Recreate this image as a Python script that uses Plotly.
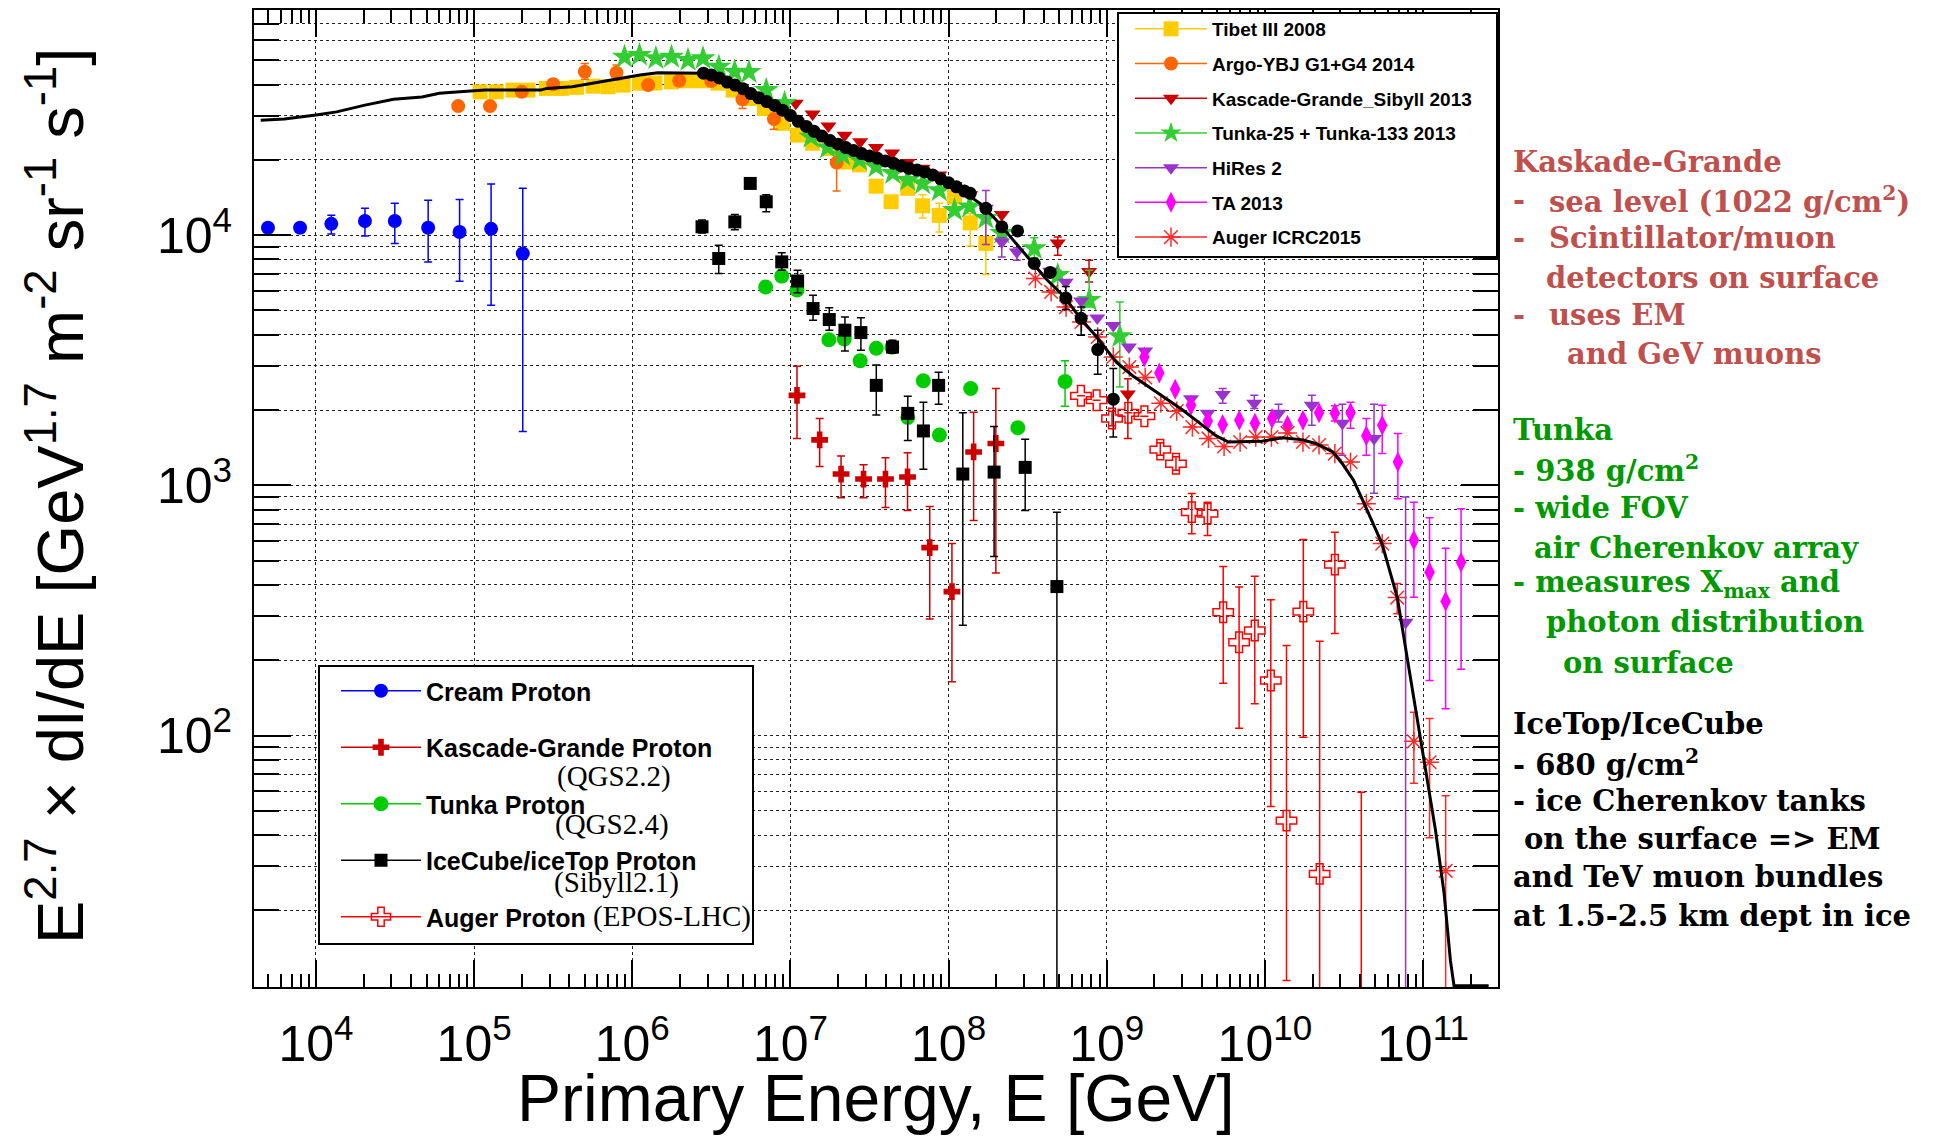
import plotly.graph_objects as go

# ------------------------------------------------------------------ data
# model / fit curve (black line)
CURVE_E = [4470, 6310, 1.0e4, 1.35e4, 2.04e4, 3.09e4, 4.68e4, 6.03e4, 8.13e4, 1.17e5,
           2.63e5, 2.88e5, 4.17e5, 5.13e5, 7.24e5, 8.51e5, 1.12e6, 1.45e6, 2.57e6, 2.82e6,
           3.72e6, 4.79e6, 6.46e6, 8.51e6, 1.10e7, 1.38e7, 1.78e7, 2.24e7, 2.88e7, 3.63e7,
           4.68e7, 5.89e7, 7.59e7, 9.55e7, 1.23e8, 1.58e8, 2.00e8, 2.57e8, 3.24e8, 4.17e8,
           5.37e8, 6.76e8, 8.71e8, 1.15e9, 1.45e9, 1.86e9, 2.34e9, 3.02e9, 3.80e9, 4.90e9,
           5.89e9, 7.94e9, 9.55e9, 1.29e10, 1.74e10, 2.09e10, 2.69e10, 3.09e10, 3.63e10, 4.07e10,
           4.52e10, 5.01e10, 5.50e10, 6.87e10, 7.76e10, 8.97e10, 1.04e11, 1.20e11, 1.36e11,
           1.49e11, 1.57e11, 2.6e11]
CURVE_F = [28800, 29100, 30200, 31100, 33100, 34900, 35700, 36900, 37400, 38000,
           38000, 38600, 39200, 40100, 41700, 42400, 43700, 44600, 44600, 44400,
           42000, 39200, 35200, 32400, 28800, 26300, 24000, 22400, 21200, 20300,
           19400, 18500, 17900, 16600, 14900, 13400, 11500, 9550, 8070, 6650,
           5690, 4680, 3890, 3110, 2750, 2470, 2220, 2000, 1790, 1580,
           1490, 1490, 1500, 1550, 1520, 1470, 1360, 1220, 1050, 898,
           771, 661, 585, 357, 225, 130, 74.6, 41.7, 23.3,
           12.6, 10.0, 10.0]

CREAM_E = [4970, 7930, 12500, 20400, 31500, 51200, 80900, 128000, 203000]
CREAM_F = [10700, 10700, 11100, 11400, 11400, 10700, 10300, 10600, 8450]
CREAM_HI = [11100, 11100, 12000, 12800, 13400, 13800, 13900, 16000, 15400]
CREAM_LO = [10300, 10300, 10100, 9930, 9270, 7820, 6550, 5250, 1640]

TIBET_E = [1.09e5, 1.38e5, 1.76e5, 2.19e5, 2.86e5, 3.56e5, 4.44e5, 5.65e5, 7.03e5, 8.75e5,
           1.11e6, 1.39e6, 1.77e6, 2.20e6, 2.74e6, 3.48e6, 4.34e6, 5.52e6, 6.85e6, 8.95e6,
           1.11e7, 1.38e7, 1.77e7, 2.20e7, 2.73e7, 3.48e7, 4.33e7, 5.51e7, 6.85e7, 8.73e7,
           1.09e8, 1.37e8, 1.72e8]
TIBET_F = [37400, 37400, 38000, 38000, 38600, 38600, 39000, 39400, 39200, 39800,
           40500, 40600, 41000, 41400, 41400, 40500, 38000, 35200, 32100, 28000,
           25100, 23300, 22200, 19600, 19100, 15700, 13600, 15400, 13100, 12000,
           14200, 11200, 9270]
TIBET_HI = [None] * 27 + [16300, 14500, 13400, None, 12200, 12200]
TIBET_LO = [None] * 27 + [14600, 11700, 10300, None, 9060, 6970]

ARGO_E = [7.93e4, 1.26e5, 2.00e5, 3.16e5, 5.01e5, 7.94e5, 1.26e6, 1.98e6, 3.16e6, 4.97e6, 7.87e6, 1.96e7]
ARGO_F = [32800, 32800, 37400, 40100, 45000, 44600, 39800, 41400, 41300, 34900, 29100, 19500]
ARGO_HI = [None, None, None, 42000, 48600, 47900, None, None, None, 36500, 30700, 22500]
ARGO_LO = [None, None, None, 38300, 42000, 41700, None, None, None, 32100, 26500, 15000]

KGS_E = [1.08e7, 1.38e7, 1.74e7, 2.20e7, 2.76e7, 3.48e7, 4.39e7, 5.51e7, 6.85e7, 8.73e7,
         1.09e8, 1.37e8, 2.17e8, 4.90e8, 7.73e8, 1.36e9]
KGS_F = [33700, 30500, 27300, 25100, 23600, 22400, 21300, 19500, 18500, 17400,
         15800, 14500, 12100, 9310, 7160, 2320]
KGS_HI = [None] * 13 + [9840, 7940, 2670]
KGS_LO = [None] * 13 + [8320, 6500, 1540]

TUNKA_E = [8.93e5, 1.11e6, 1.41e6, 1.77e6, 2.25e6, 2.80e6, 3.53e6, 4.44e6, 5.47e6, 7.03e6,
           9.18e6, 1.35e7, 1.72e7, 2.14e7, 2.73e7, 3.48e7, 4.44e7, 5.51e7, 6.85e7, 8.73e7,
           1.09e8, 1.36e8, 1.72e8, 2.17e8, 3.48e8, 4.90e8, 7.74e8, 1.21e9]
TUNKA_F = [51600, 52500, 50900, 51600, 50100, 50900, 47100, 45000, 44800, 38000,
           33700, 24700, 22400, 20900, 20000, 18800, 17700, 16600, 16100, 15100,
           12600, 13000, 11700, 10200, 8850, 6920, 5500, 3940]
TUNKA_HI = [None] * 24 + [9770, 7240, 7240, 5410]
TUNKA_LO = [None] * 24 + [8130, 5860, 5160, 2470]

HIRES_E = [1.72e8, 2.17e8, 2.70e8, 4.39e8, 5.50e8, 6.89e8, 8.71e8, 1.10e9, 1.38e9, 1.75e9,
           3.41e9, 4.35e9, 5.41e9, 8.57e9, 1.22e10, 1.98e10, 3.09e10, 4.90e10, 7.76e10]
HIRES_F = [12800, 9400, 8570, 7180, 6490, 5460, 4670, 4350, 3570, 3440,
           2220, 1940, 2310, 2130, 1940, 2090, 1770, 1540, 284]
HIRES_HI = [15100, 9770, 8900] + [None] * 9 + [2440, 2290, 2110, 2290, 2110, 2110, 898]
HIRES_LO = [9180, 8180, 7940] + [None] * 9 + [2130, 2030, 1790, 1740, 1320, 931, 1.0]

TA_E = [1.73e9, 2.15e9, 2.71e9, 3.41e9, 4.35e9, 5.41e9, 6.89e9, 8.65e9, 1.11e10, 1.39e10,
        1.74e10, 2.20e10, 2.77e10, 3.48e10, 4.38e10, 5.52e10, 6.93e10, 8.75e10, 1.10e11, 1.39e11,
        1.74e11]
TA_F = [3260, 2810, 2420, 2090, 1810, 1750, 1820, 1770, 1850, 1740,
        1820, 1950, 1940, 1950, 1580, 1740, 1240, 603, 450, 344, 493]
TA_HI = [None] * 12 + [2080, 2150, 1850, 2090, 1610, 857, 743, 561, 807]
TA_LO = [None] * 12 + [1810, 1690, 1320, 1340, 885, 357, 166, 128, 184]

AUGER_E = [3.54e8, 4.45e8, 5.53e8, 6.92e8, 8.77e8, 1.10e9, 1.39e9, 1.75e9, 2.20e9, 2.77e9,
           3.48e9, 4.40e9, 5.52e9, 6.97e9, 8.75e9, 1.10e10, 1.39e10, 1.74e10, 2.20e10, 2.77e10,
           3.48e10, 4.38e10, 5.52e10, 6.87e10, 8.75e10, 1.10e11, 1.39e11]
AUGER_F = [6710, 5930, 5160, 4500, 3920, 3260, 2970, 2700, 2130, 1980,
           1710, 1540, 1430, 1490, 1560, 1560, 1620, 1490, 1450, 1340,
           1240, 845, 585, 356, 94.8, 78.2, 28.8]
AUGER_HI = [None] * 23 + [405, 124, 117, 57.5]
AUGER_LO = [None] * 23 + [307, 64.4, 39.0, 1.0]

KGP_E = [1.10e7, 1.53e7, 2.09e7, 2.90e7, 3.99e7, 5.50e7, 7.60e7, 1.05e8, 1.44e8, 1.99e8]
KGP_F = [2290, 1520, 1110, 1060, 1060, 1080, 564, 376, 1360, 1470]
KGP_HI = [2990, 1850, 1310, 1210, 1290, 1350, 824, 585, 1960, 2440]
KGP_LO = [1540, 1190, 893, 893, 815, 794, 292, 164, 724, 446]

TUNKAP_E = [6.97e6, 8.81e6, 1.10e7, 1.75e7, 2.19e7, 2.76e7, 3.49e7, 4.38e7, 5.52e7, 6.92e7,
            8.75e7, 1.38e8, 2.74e8, 5.45e8]
TUNKAP_F = [6210, 6860, 6040, 3820, 3850, 3150, 3530, 3570, 1870, 2620, 1590, 2440, 1700, 2600]
TUNKAP_HI = [None] * 13 + [3150]
TUNKAP_LO = [None] * 13 + [2070]

ICP_E = [2.76e6, 3.52e6, 4.45e6, 5.57e6, 7.03e6, 8.81e6, 1.11e7, 1.39e7, 1.76e7, 2.21e7,
         2.79e7, 3.49e7, 4.42e7, 5.52e7, 6.93e7, 8.65e7, 1.23e8, 1.94e8, 3.05e8, 4.84e8]
ICP_F = [10800, 8070, 11300, 16100, 13600, 7820, 6560, 5090, 4600, 4170,
         4080, 2510, 3570, 1940, 1650, 2510, 1110, 1130, 1180, 394]
ICP_HI = [11500, 9120, 12100, None, 14500, 8510, 7240, 5750, 5130, 4710,
          4680, 3030, 3800, 2270, 2150, 2830, 1950, 1720, 1530, 780]
ICP_LO = [10200, 7030, 10500, None, 12400, 7240, 5890, 4570, 4170, 3440,
          3470, 1910, 3370, 1510, 1160, 2110, 276, 520, 794, 1.0]

ALL_E = [2.82e6, 3.16e6, 3.55e6, 3.98e6, 4.47e6, 5.01e6, 5.62e6, 6.31e6, 7.08e6, 7.94e6,
         8.91e6, 1.0e7, 1.12e7, 1.26e7, 1.41e7, 1.58e7, 1.78e7, 2.0e7, 2.24e7, 2.51e7,
         2.82e7, 3.16e7, 3.55e7, 3.98e7, 4.47e7, 5.01e7, 5.62e7, 6.31e7, 7.08e7, 7.94e7,
         8.91e7, 1.0e8, 1.12e8, 1.26e8, 1.37e8, 1.72e8, 2.17e8, 2.73e8, 3.48e8, 4.39e8,
         5.51e8, 6.89e8, 8.77e8, 1.10e9]
ALL_F = [44400, 43700, 42500, 40900, 39800, 38500, 36800, 35400, 34200, 33000,
         31600, 30100, 28500, 27200, 26000, 24900, 23900, 23100, 22400, 21800,
         21200, 20700, 20300, 19800, 19400, 18900, 18500, 18200, 17900, 17400,
         16800, 16200, 15600, 15000, 14700, 12800, 10800, 10400, 7710, 7100,
         5610, 4650, 3490, 2210]
ALL_HI = [None] * 40 + [6230, 5160, 4170, 2930]
ALL_LO = [None] * 40 + [5050, 3980, 2780, 1560]

AUGP_E = [6.87e8, 8.63e8, 1.08e9, 1.37e9, 1.73e9, 2.18e9, 2.74e9, 3.45e9, 4.34e9, 5.45e9,
          6.87e9, 8.63e9, 1.09e10, 1.37e10, 1.75e10, 2.22e10, 2.77e10, 4.07e10]
AUGP_F = [2280, 2190, 1850, 1950, 1890, 1390, 1220, 782, 771, 311,
          236, 263, 166, 45.7, 313, 28.0, 482, 5.0]
AUGP_HI = [None, None, 1980, None, None, 1480, 1300, 927, 857, 474,
           392, 433, 349, 229, 607, 238, 650, 59.3]
AUGP_LO = [None, None, 1730, None, None, 1320, 1150, 641, 631, 162,
           107, 134, 52.0, 10.5, 98.4, 1.0, 256, 5.0]

X_TICKS = [1e4, 1e5, 1e6, 1e7, 1e8, 1e9, 1e10, 1e11]
X_TICKTEXT = ["10<sup>4</sup>", "10<sup>5</sup>", "10<sup>6</sup>", "10<sup>7</sup>",
              "10<sup>8</sup>", "10<sup>9</sup>", "10<sup>10</sup>", "10<sup>11</sup>"]
Y_TICKS = [1e2, 1e3, 1e4]
Y_TICKTEXT = ["10<sup>2</sup>", "10<sup>3</sup>", "10<sup>4</sup>"]

TOP_LEGEND = ["Tibet III 2008", "Argo-YBJ G1+G4 2014", "Kascade-Grande_Sibyll 2013",
              "Tunka-25 + Tunka-133 2013", "HiRes 2", "TA 2013", "Auger ICRC2015"]
BOTTOM_LEGEND = ["Cream Proton", "Kascade-Grande Proton", "Tunka Proton",
                 "IceCube/iceTop Proton", "Auger Proton"]
MODEL_LABELS = ["(QGS2.2)", "(QGS2.4)", "(Sibyll2.1)", "(EPOS-LHC)"]

KG_NOTES = ["Kaskade-Grande", "sea level (1022 g/cm<sup>2</sup>)", "Scintillator/muon",
            "detectors on surface", "uses EM", "and GeV muons"]
TUNKA_NOTES = ["Tunka", "- 938 g/cm<sup>2</sup>", "- wide FOV", "air Cherenkov array",
               "- measures X<sub>max</sub> and", "photon distribution", "on surface"]
ICE_NOTES = ["IceTop/IceCube", "- 680 g/cm<sup>2</sup>", "- ice Cherenkov tanks",
             "on the surface => EM", "and TeV muon bundles", "at 1.5-2.5 km dept in ice"]

# ------------------------------------------------------------------ layout helpers
W, H = 1946, 1145
L, R, T, B = 254, 1498, 10, 987


def px(x):
    return (x - L) / (R - L)


def py(y):
    return (B - y) / (B - T)


def errs(vals, hi, lo):
    plus = [0 if h is None else h - v for v, h in zip(vals, hi)]
    minus = [0 if l is None else v - l for v, l in zip(vals, lo)]
    return plus, minus


fig = go.Figure()


def add_points(E, F, HI, LO, color, symbol, size, lw=0):
    plus, minus = errs(F, HI, LO)
    fig.add_trace(go.Scatter(
        x=E, y=F, mode="markers", showlegend=False, hoverinfo="skip",
        marker=dict(symbol=symbol, size=size, color=color, line=dict(width=lw, color=color)),
        error_y=dict(type="data", symmetric=False, array=plus, arrayminus=minus,
                     color=color, thickness=1.5, width=4)))


def add_legend_entry(name, color, symbol, size, legend, lw=0):
    fig.add_trace(go.Scatter(
        x=[None], y=[None], mode="lines+markers", name=name, legend=legend,
        legendgroup=name, line=dict(color=color, width=1.5),
        marker=dict(symbol=symbol, size=size, color=color, line=dict(width=lw, color=color))))


C_TIBET, C_ARGO, C_KGS, C_TUNKA = "#FFCC00", "#FF6600", "#CC0000", "#33CC33"
C_HIRES, C_TA, C_AUGER = "#9933CC", "#FF00FF", "#FF2a2a"
C_CREAM, C_KGP, C_TUNKAP, C_ICP, C_AUGP = "#0000FF", "#CC0000", "#00CC00", "#000000", "#FF0000"

S_TIBET, S_ARGO, S_KGS, S_TUNKA, S_HIRES, S_TA, S_AUGER = 15, 14, 14, 19, 14, 15, 16
S_CREAM, S_KGP, S_TUNKAP, S_ICP, S_AUGP, S_ALL = 14, 14, 15, 13, 17, 13

add_points(TIBET_E, TIBET_F, TIBET_HI, TIBET_LO, C_TIBET, "square", S_TIBET)
add_points(ARGO_E, ARGO_F, ARGO_HI, ARGO_LO, C_ARGO, "circle", S_ARGO)
add_points(KGS_E, KGS_F, KGS_HI, KGS_LO, C_KGS, "triangle-down", S_KGS)
add_points(TUNKA_E, TUNKA_F, TUNKA_HI, TUNKA_LO, C_TUNKA, "star", S_TUNKA)
add_points(HIRES_E, HIRES_F, HIRES_HI, HIRES_LO, C_HIRES, "triangle-down", S_HIRES)
add_points(TA_E, TA_F, TA_HI, TA_LO, C_TA, "diamond-tall", S_TA)
add_points(AUGER_E, AUGER_F, AUGER_HI, AUGER_LO, C_AUGER, "asterisk-open", S_AUGER, lw=1.5)

fig.add_trace(go.Scatter(x=CURVE_E, y=CURVE_F, mode="lines", showlegend=False, hoverinfo="skip",
                         line=dict(color="black", width=3)))
add_points(ALL_E, ALL_F, ALL_HI, ALL_LO, "#000000", "circle", S_ALL)

add_points(CREAM_E, CREAM_F, CREAM_HI, CREAM_LO, C_CREAM, "circle", S_CREAM)
add_points(KGP_E, KGP_F, KGP_HI, KGP_LO, C_KGP, "cross", S_KGP)
add_points(TUNKAP_E, TUNKAP_F, TUNKAP_HI, TUNKAP_LO, C_TUNKAP, "circle", S_TUNKAP)
add_points(ICP_E, ICP_F, ICP_HI, ICP_LO, C_ICP, "square", S_ICP)
add_points(AUGP_E, AUGP_F, AUGP_HI, AUGP_LO, C_AUGP, "cross-open", S_AUGP, lw=1.5)

# legend entries
top_styles = [(C_TIBET, "square", S_TIBET, 0), (C_ARGO, "circle", S_ARGO, 0),
              (C_KGS, "triangle-down", S_KGS, 0), (C_TUNKA, "star", S_TUNKA, 0),
              (C_HIRES, "triangle-down", S_HIRES, 0), (C_TA, "diamond-tall", S_TA, 0),
              (C_AUGER, "asterisk-open", S_AUGER, 1.5)]
for name, (c, s, sz, lw) in zip(TOP_LEGEND, top_styles):
    add_legend_entry(name, c, s, sz, "legend", lw)
bot_styles = [(C_CREAM, "circle", S_CREAM, 0), (C_KGP, "cross", S_KGP, 0),
              (C_TUNKAP, "circle", S_TUNKAP, 0), (C_ICP, "square", S_ICP, 0),
              (C_AUGP, "cross-open", S_AUGP, 1.5)]
for name, (c, s, sz, lw) in zip(BOTTOM_LEGEND, bot_styles):
    add_legend_entry(name, c, s, sz, "legend2", lw)

# ------------------------------------------------------------------ axes
x_minor = [k * 10 ** d for d in range(3, 12) for k in range(2, 10)]
y_minor = [k * 10 ** d for d in range(0, 5) for k in range(2, 10)]

axis_common = dict(type="log", showline=True, linecolor="black", linewidth=2, mirror="allticks",
                   ticks="inside", tickcolor="black", tickwidth=1.5, zeroline=False,
                   gridcolor="#222222", gridwidth=1, griddash="dot", showgrid=True,
                   tickfont=dict(family="Liberation Sans, Arial, sans-serif", size=50, color="black"))
fig.update_xaxes(**axis_common, range=[3.608, 11.474], tickmode="array", tickvals=X_TICKS,
                 ticktext=X_TICKTEXT, ticklen=27, ticklabelstandoff=12,
                 minor=dict(tickmode="array", tickvals=x_minor, ticks="inside", ticklen=13,
                            tickwidth=1.5, tickcolor="black", showgrid=False))
fig.update_yaxes(**axis_common, range=[0.995, 4.9], tickmode="array", tickvals=Y_TICKS,
                 ticktext=Y_TICKTEXT, ticklen=37, ticklabelstandoff=10,
                 minor=dict(tickmode="array", tickvals=y_minor, ticks="inside", ticklen=25,
                            tickwidth=1.5, tickcolor="black", showgrid=True,
                            gridcolor="#222222", gridwidth=1, griddash="dot"))

# ------------------------------------------------------------------ annotations
ann = []
ann.append(dict(text="Primary Energy, E [GeV]", x=px(876), y=py(1098), xref="paper", yref="paper",
                showarrow=False, xanchor="center", yanchor="middle",
                font=dict(family="Liberation Sans, Arial, sans-serif", size=66, color="black")))
ann.append(dict(text="E<sup>2.7</sup> \u00d7 dI/dE [GeV<sup>1.7</sup> m<sup>-2</sup> sr<sup>-1</sup> s<sup>-1</sup>]",
                x=px(56), y=py(496), xref="paper", yref="paper", textangle=-90,
                showarrow=False, xanchor="center", yanchor="middle",
                font=dict(family="Liberation Sans, Arial, sans-serif", size=65, color="black")))

model_pos = [(555, 776), (553, 824), (552, 882), (591, 916)]
for txt, (x0, y0) in zip(MODEL_LABELS, model_pos):
    ann.append(dict(text=txt, x=px(x0), y=py(y0), xref="paper", yref="paper", showarrow=False,
                    xanchor="left", yanchor="middle",
                    font=dict(family="Liberation Serif, Times New Roman, serif", size=29, color="black")))

note_font = "DejaVu Serif, serif"


def note(txt, x0, y0, color):
    ann.append(dict(text=txt, x=px(x0), y=py(y0), xref="paper", yref="paper", showarrow=False,
                    xanchor="left", yanchor="middle",
                    font=dict(family=note_font, size=29, color=color, weight="bold")))


KG_C, TU_C, IC_C = "#C0504D", "#009900", "#000000"
kg_pos = [(1511, 162), (1547, 200), (1547, 238), (1544, 278), (1547, 315), (1565, 354)]
for txt, (x0, y0) in zip(KG_NOTES, kg_pos):
    note(txt, x0, y0, KG_C)
for y0 in (200, 238, 315):
    note("-", 1511, y0, KG_C)
tu_pos = [(1511, 430), (1511, 469), (1511, 508), (1532, 548), (1511, 584), (1544, 622), (1561, 663)]
for txt, (x0, y0) in zip(TUNKA_NOTES, tu_pos):
    note(txt, x0, y0, TU_C)
ic_pos = [(1511, 724), (1511, 763), (1511, 801), (1522, 839), (1511, 877), (1511, 916)]
for txt, (x0, y0) in zip(ICE_NOTES, ic_pos):
    note(txt, x0, y0, IC_C)

shapes = [
    dict(type="rect", xref="paper", yref="paper", x0=px(1118), x1=px(1497), y0=py(257), y1=py(13),
         fillcolor="white", line=dict(color="black", width=2), layer="above"),
    dict(type="rect", xref="paper", yref="paper", x0=px(319), x1=px(753), y0=py(944), y1=py(666),
         fillcolor="white", line=dict(color="black", width=2), layer="above"),
]

fig.update_layout(
    width=W, height=H,
    margin=dict(l=L, r=W - R, t=T, b=H - B, autoexpand=False),
    paper_bgcolor="white", plot_bgcolor="white",
    font=dict(family="Liberation Sans, Arial, sans-serif", color="black"),
    annotations=ann, shapes=shapes,
    legend=dict(x=px(1130), y=py(10), xanchor="left", yanchor="top", bgcolor="rgba(0,0,0,0)",
                borderwidth=0, traceorder="grouped", tracegroupgap=7, itemwidth=72,
                font=dict(family="Liberation Sans, Arial, sans-serif", size=19, color="black", weight="bold")),
    legend2=dict(x=px(336), y=py(668), xanchor="left", yanchor="top", bgcolor="rgba(0,0,0,0)",
                 borderwidth=0, traceorder="grouped", tracegroupgap=21, itemwidth=80,
                 font=dict(family="Liberation Sans, Arial, sans-serif", size=25, color="black", weight="bold")),
)

fig.write_html("out.html")
